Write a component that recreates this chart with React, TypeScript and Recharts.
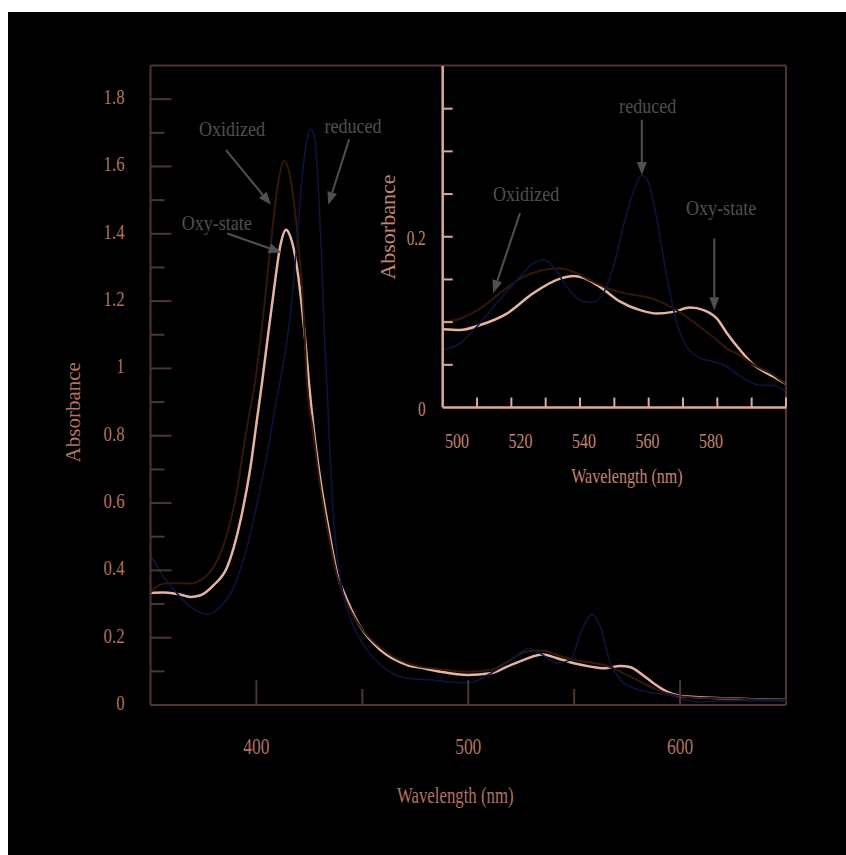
import {
  LineChart,
  Line,
  XAxis,
  YAxis,
  ReferenceLine,
  ReferenceDot,
  Label,
} from "recharts";

// Main spectrum, 350–650 nm
const oxyNm = [350, 356, 361, 366, 368.8, 373.6, 379.8, 386.2, 392.5, 397.2, 400.3, 402.7, 405.1, 408.2, 411.3, 414, 416.1, 418.4, 420.8, 423.2, 424.7, 427.1, 430.2, 434.2, 438.1, 442.8, 449.1, 458.6, 471.2, 479, 486.9, 499.5, 510.5, 518.4, 526.2, 534.9, 542, 549.9, 557.7, 564, 571.9, 576.6, 581.3, 587.6, 594, 600.2, 609.7, 620.7, 636.5, 650];
const oxyAbs = [0.333, 0.334, 0.331, 0.325, 0.321, 0.326, 0.356, 0.41, 0.549, 0.707, 0.85, 0.96, 1.08, 1.23, 1.365, 1.412, 1.39, 1.33, 1.221, 1.073, 0.964, 0.816, 0.668, 0.519, 0.391, 0.312, 0.232, 0.163, 0.119, 0.109, 0.099, 0.089, 0.094, 0.114, 0.134, 0.15, 0.139, 0.124, 0.114, 0.109, 0.116, 0.112, 0.094, 0.064, 0.039, 0.027, 0.023, 0.02, 0.017, 0.015];

const oxidizedNm = [350, 356.2, 362, 368.8, 373.6, 379.8, 386.2, 390.9, 394, 397.2, 399.5, 402, 405, 408.2, 410.5, 413.2, 415.3, 417.6, 420, 422.3, 423.8, 426.7, 429.7, 433.7, 437.8, 442.8, 449.1, 458.6, 471.2, 486.9, 499.5, 510.5, 518.4, 527.7, 535.6, 542, 549.9, 557.7, 565.6, 573.4, 581.3, 589.2, 597.1, 604.9, 620, 635, 650];
const oxidizedAbs = [0.335, 0.361, 0.362, 0.361, 0.371, 0.41, 0.509, 0.638, 0.766, 0.885, 0.964, 1.09, 1.26, 1.45, 1.56, 1.617, 1.588, 1.499, 1.36, 1.162, 0.964, 0.816, 0.668, 0.519, 0.391, 0.302, 0.232, 0.17, 0.124, 0.106, 0.099, 0.104, 0.129, 0.159, 0.162, 0.148, 0.134, 0.126, 0.116, 0.094, 0.069, 0.045, 0.03, 0.023, 0.02, 0.017, 0.015];

const reducedNm = [350, 356.2, 362.6, 368.8, 376.7, 383, 389.3, 395.6, 400.3, 405.1, 409, 412.3, 415.3, 418.4, 421.6, 424, 425.5, 427.4, 429.4, 431, 432.3, 433.2, 434.2, 435.8, 438.1, 441.2, 446, 452.3, 461.7, 471.2, 483.7, 496.3, 503, 510.5, 518.4, 528.6, 534.1, 542, 548.3, 553, 558.5, 562.4, 567.1, 571.9, 578.2, 584.5, 594, 608, 620, 635, 650];
const reducedAbs = [0.445, 0.381, 0.331, 0.292, 0.269, 0.292, 0.351, 0.47, 0.598, 0.747, 0.89, 1.0, 1.122, 1.32, 1.568, 1.686, 1.711, 1.686, 1.518, 1.3, 1.073, 0.964, 0.816, 0.618, 0.44, 0.321, 0.232, 0.163, 0.104, 0.079, 0.074, 0.066, 0.07, 0.094, 0.124, 0.168, 0.153, 0.124, 0.134, 0.213, 0.269, 0.232, 0.124, 0.074, 0.05, 0.039, 0.03, 0.01, 0.012, 0.013, 0.012];

// Inset, 500–600 nm
const insetOxyNm = [500, 505, 510.9, 518.7, 526.4, 534.2, 538.1, 541, 545.9, 551.7, 557.5, 562.4, 567.2, 572.1, 576, 579.9, 582.8, 586.7, 590.6, 596.4, 599.8];
const insetOxyAbs = [0.0916, 0.0907, 0.0966, 0.11, 0.134, 0.151, 0.154, 0.152, 0.141, 0.124, 0.114, 0.11, 0.112, 0.117, 0.114, 0.104, 0.087, 0.067, 0.05, 0.036, 0.028];

const insetOxidizedNm = [500, 505, 510.9, 516.7, 523.5, 529.3, 533.2, 538.1, 542.9, 547.8, 552.7, 558.5, 563.4, 567.2, 571.1, 576, 579.9, 582.8, 586.7, 590.6, 596.4, 599.8];
const insetOxidizedAbs = [0.1005, 0.104, 0.116, 0.134, 0.153, 0.161, 0.163, 0.159, 0.149, 0.14, 0.134, 0.13, 0.124, 0.116, 0.106, 0.091, 0.079, 0.069, 0.061, 0.05, 0.038, 0.028];

const insetReducedNm = [500, 505, 509.9, 515.7, 522.5, 526.4, 529.3, 532.2, 536.2, 540, 543.4, 546.8, 549.7, 553.1, 556.1, 558, 559.9, 562.4, 565.3, 568.2, 571.1, 575, 578.9, 582.8, 584.8, 588.6, 592.5, 596.4, 599.8];
const insetReducedAbs = [0.0673, 0.075, 0.0946, 0.122, 0.153, 0.169, 0.173, 0.165, 0.141, 0.126, 0.123, 0.134, 0.165, 0.2196, 0.2586, 0.272, 0.264, 0.2196, 0.153, 0.0986, 0.0712, 0.0576, 0.0536, 0.0478, 0.042, 0.032, 0.026, 0.026, 0.0185];

// Axis ticks
const mainXLabels = [400, 500, 600];
const mainXTicks = [400, 450, 500, 550, 600];
const mainYLabels = [0, 0.2, 0.4, 0.6, 0.8, 1, 1.2, 1.4, 1.6, 1.8];
const mainYTicks = [0, 0.1, 0.2, 0.3, 0.4, 0.5, 0.6, 0.7, 0.8, 0.9, 1, 1.1, 1.2, 1.3, 1.4, 1.5, 1.6, 1.7, 1.8];
const insetXTicks = [510, 520, 530, 540, 550, 560, 570, 580, 590, 600];
const insetXLabels = [500, 520, 540, 560, 580];
const insetYTicks = [0, 0.05, 0.1, 0.15, 0.2, 0.25, 0.3, 0.35];
const insetYLabels = [0, 0.2];

// Annotations: [text, label nm, label abs, arrow start nm, abs, arrow tip nm, abs]
const mainNotes: [string, number, number, number, number, number, number][] = [
  ["Oxidized", 388.5, 1.711, 385.6, 1.649, 406.9, 1.486],
  ["reduced", 445.6, 1.721, 443.8, 1.681, 433.9, 1.486],
  ["Oxy-state", 381.3, 1.432, 386.3, 1.401, 411.9, 1.344],
];
const insetNotes: [string, number, number, number, number, number, number][] = [
  ["reduced", 559.7, 0.353, 558, 0.337, 558, 0.2724],
  ["Oxidized", 524.3, 0.25, 522.5, 0.2275, 514.7, 0.1338],
  ["Oxy-state", 581.1, 0.2337, 579.1, 0.198, 579.1, 0.114],
];

const SERIF = '"Liberation Serif", "Times New Roman", serif';
const MAIN_AXIS = "#4d3630";
const MAIN_TEXT = "#b37262";
const INSET_AXIS = "#dcaa9a";
const INSET_TEXT = "#c48470";
const NOTE = "#505050";
const OXY = "#e6b2a2";
const OXIDIZED = "#33180a";
const REDUCED = "#0b143e";

const W = 846;
const H = 855;

const zip = (nm: number[], abs: number[]) => nm.map((x, i) => ({ nm: x, abs: abs[i] }));
const fmt = (v: number) => String(Math.round(v * 100) / 100);

function Squashed({ x, y, children, size = 22, fill, anchor = "middle", squash = 0.76 }: any) {
  return (
    <text
      transform={`translate(${x},${y}) scale(${squash},1)`}
      textAnchor={anchor}
      fontFamily={SERIF}
      fontSize={size}
      fill={fill}
    >
      {children}
    </text>
  );
}

function Upright({ x, y, children, size = 21, fill }: any) {
  return (
    <text
      transform={`translate(${x},${y}) rotate(-90)`}
      textAnchor="middle"
      dy="0.35em"
      fontFamily={SERIF}
      fontSize={size}
      fill={fill}
    >
      {children}
    </text>
  );
}

// inward tick marks drawn from the axis position handed over by recharts
function MainYTick(p: any) {
  const v = p.payload.value;
  const major = mainYLabels.includes(v);
  return (
    <g>
      <line x1={p.x} x2={p.x + (major ? 21 : 14)} y1={p.y} y2={p.y} stroke={MAIN_AXIS} strokeWidth={2} />
      {major && (
        <Squashed x={p.x - 26} y={p.y + 5} fill={MAIN_TEXT} anchor="end">
          {fmt(v)}
        </Squashed>
      )}
    </g>
  );
}

function MainXTick(p: any) {
  const v = p.payload.value;
  const major = mainXLabels.includes(v);
  return (
    <g>
      <line x1={p.x} x2={p.x} y1={p.y} y2={p.y - (major ? 25 : 16)} stroke={MAIN_AXIS} strokeWidth={2} />
      {major && (
        <Squashed x={p.x} y={p.y + 49} fill={MAIN_TEXT} size={23}>
          {fmt(v)}
        </Squashed>
      )}
    </g>
  );
}

function InsetYTick(p: any) {
  const v = p.payload.value;
  return (
    <g>
      {v > 0 && <line x1={p.x} x2={p.x + 10} y1={p.y} y2={p.y} stroke={INSET_AXIS} strokeWidth={2} />}
      {insetYLabels.includes(v) && (
        <Squashed x={p.x - 17} y={p.y + 8} fill={INSET_TEXT} anchor="end" size={20}>
          {fmt(v)}
        </Squashed>
      )}
    </g>
  );
}

function InsetXTick(p: any) {
  return <line x1={p.x} x2={p.x} y1={p.y} y2={p.y - 10} stroke={INSET_AXIS} strokeWidth={2} />;
}

function InsetXLabel(p: any) {
  return (
    <Squashed x={p.x} y={p.y + 40.5} fill={INSET_TEXT} size={21}>
      {fmt(p.payload.value)}
    </Squashed>
  );
}

function Arrow(props: any) {
  const { x1, y1, x2, y2 } = props;
  const ang = Math.atan2(y2 - y1, x2 - x1);
  const len = 13;
  const half = 5;
  const bx = x2 - len * Math.cos(ang);
  const by = y2 - len * Math.sin(ang);
  const px = -Math.sin(ang) * half;
  const py = Math.cos(ang) * half;
  return (
    <g>
      <line x1={x1} y1={y1} x2={bx} y2={by} stroke={NOTE} strokeWidth={2} />
      <polygon points={`${x2},${y2} ${bx + px},${by + py} ${bx - px},${by - py}`} fill={NOTE} />
    </g>
  );
}

function notes(list: [string, number, number, number, number, number, number][]) {
  return list.flatMap(([text, lx, ly, ax, ay, bx, by]) => [
    <ReferenceLine
      key={`a-${text}`}
      segment={[{ x: ax, y: ay }, { x: bx, y: by }]}
      shape={Arrow}
    />,
    <ReferenceDot
      key={`t-${text}`}
      x={lx}
      y={ly}
      r={0}
      shape={(p: any) => (
        <Squashed x={p.cx} y={p.cy + 7} fill={NOTE} squash={0.82}>
          {text}
        </Squashed>
      )}
    />,
  ]);
}

function MainChart() {
  return (
    <LineChart width={W} height={H} margin={{ top: 65.5, right: 60, bottom: 110, left: 90.5 }}>
      <XAxis
        type="number"
        dataKey="nm"
        domain={[350, 650]}
        allowDataOverflow
        ticks={mainXTicks}
        interval={0}
        tickLine={false}
        tickSize={0}
        tickMargin={0}
        height={40}
        axisLine={{ stroke: MAIN_AXIS, strokeWidth: 2 }}
        tick={MainXTick}
      >
        <Label
          content={(p: any) => (
            <Squashed x={p.viewBox.x + p.viewBox.width / 2 - 13} y={p.viewBox.y + 98} fill={MAIN_TEXT} size={23} squash={0.73}>
              Wavelength (nm)
            </Squashed>
          )}
        />
      </XAxis>
      <YAxis
        type="number"
        domain={[0, 1.9]}
        allowDataOverflow
        ticks={mainYTicks}
        interval={0}
        tickLine={false}
        axisLine={{ stroke: MAIN_AXIS, strokeWidth: 2 }}
        tickSize={0}
        tickMargin={0}
        width={60}
        tick={MainYTick}
      >
        <Label
          content={(p: any) => (
            <Upright x={p.viewBox.x - 18} y={p.viewBox.y + p.viewBox.height / 2 + 27} fill={MAIN_TEXT}>
              Absorbance
            </Upright>
          )}
        />
      </YAxis>
      <ReferenceLine y={1.9} stroke={MAIN_AXIS} strokeWidth={2} />
      <ReferenceLine x={650} stroke={MAIN_AXIS} strokeWidth={2} />
      <Line data={zip(oxyNm, oxyAbs)} dataKey="abs" type="monotone" stroke={OXY} strokeWidth={2.5} dot={false} isAnimationActive={false} />
      <Line data={zip(oxidizedNm, oxidizedAbs)} dataKey="abs" type="monotone" stroke={OXIDIZED} strokeWidth={2} dot={false} isAnimationActive={false} />
      <Line data={zip(reducedNm, reducedAbs)} dataKey="abs" type="monotone" stroke={REDUCED} strokeWidth={1.6} dot={false} isAnimationActive={false} />
      {notes(mainNotes)}
    </LineChart>
  );
}

function InsetChart() {
  // chart-level rows give the label-only axis something to resolve its domain against
  const reducedRows = zip(insetReducedNm, insetReducedAbs);
  return (
    <LineChart width={W} height={H} data={reducedRows} margin={{ top: 66, right: 60, bottom: 407.5, left: 382.7 }}>
      <XAxis
        type="number"
        dataKey="nm"
        domain={[500, 600]}
        allowDataOverflow
        ticks={insetXTicks}
        interval={0}
        tickLine={false}
        tickSize={0}
        tickMargin={0}
        height={40}
        axisLine={{ stroke: INSET_AXIS, strokeWidth: 2.5 }}
        tick={InsetXTick}
      >
        <Label
          content={(p: any) => (
            <Squashed x={p.viewBox.x + p.viewBox.width / 2 + 12.6} y={p.viewBox.y + 75} fill={INSET_TEXT} size={22} squash={0.73}>
              Wavelength (nm)
            </Squashed>
          )}
        />
      </XAxis>
      {/* the inset's printed wavelength labels run on their own, slightly narrower scale */}
      <XAxis
        xAxisId="insetLabels"
        type="number"
        dataKey="nm"
        mirror
        domain={[495.5, 603.6]}
        allowDataOverflow
        ticks={insetXLabels}
        interval={0}
        tickLine={false}
        axisLine={false}
        tickSize={0}
        tickMargin={0}
        tick={InsetXLabel}
      />
      <YAxis
        type="number"
        domain={[0, 0.4]}
        allowDataOverflow
        ticks={insetYTicks}
        interval={0}
        tickLine={false}
        axisLine={{ stroke: INSET_AXIS, strokeWidth: 2.5 }}
        tickSize={0}
        tickMargin={0}
        width={60}
        tick={InsetYTick}
      >
        <Label
          content={(p: any) => (
            <Upright x={p.viewBox.x + 4.3} y={p.viewBox.y + p.viewBox.height / 2 - 9.7} fill={INSET_TEXT} size={22}>
              Absorbance
            </Upright>
          )}
        />
      </YAxis>
      <Line data={zip(insetOxyNm, insetOxyAbs)} dataKey="abs" type="monotone" stroke={OXY} strokeWidth={2.5} dot={false} isAnimationActive={false} />
      <Line data={zip(insetOxidizedNm, insetOxidizedAbs)} dataKey="abs" type="monotone" stroke={OXIDIZED} strokeWidth={2} dot={false} isAnimationActive={false} />
      <Line dataKey="abs" type="monotone" stroke={REDUCED} strokeWidth={1.6} dot={false} isAnimationActive={false} />
      {notes(insetNotes)}
    </LineChart>
  );
}

export default function App() {
  return (
    <div style={{ position: "fixed", left: 0, top: 0, right: 0, bottom: 0, background: "#fff" }}>
      <div style={{ position: "absolute", left: 8, top: 12, right: 0, bottom: 0, background: "#000" }} />
      <div style={{ position: "absolute", left: 0, top: 0 }}>
        <MainChart />
      </div>
      <div style={{ position: "absolute", left: 0, top: 0 }}>
        <InsetChart />
      </div>
    </div>
  );
}
